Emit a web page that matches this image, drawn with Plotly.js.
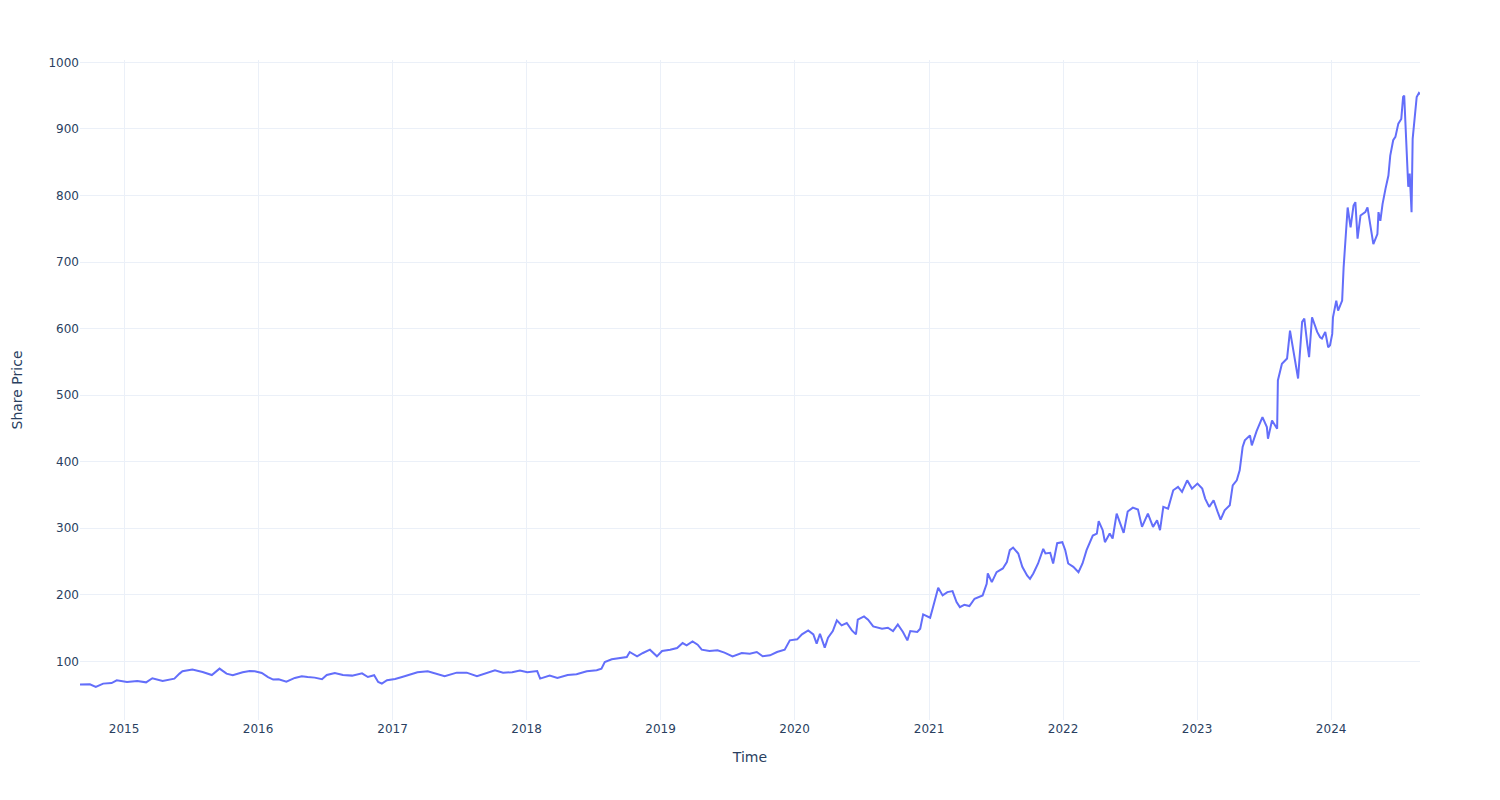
<!DOCTYPE html>
<html>
<head>
<meta charset="utf-8">
<script src="https://cdn.plot.ly/plotly-3.0.1.min.js"></script>
<style>html,body{margin:0;padding:0;background:#fff;}#chart{width:1500px;height:800px;}</style>
</head>
<body>
<div id="chart"></div>
<script>
// Dates of the readings
const dates = [
"2014-09-03","2014-09-30","2014-10-16","2014-11-05","2014-11-28","2014-12-12",
"2015-01-09","2015-02-06","2015-03-02","2015-03-19","2015-04-16","2015-05-18","2015-06-01","2015-06-09","2015-07-06","2015-08-03","2015-08-28","2015-09-18","2015-10-07","2015-10-24","2015-11-20","2015-12-09","2015-12-23",
"2016-01-11","2016-01-28","2016-02-11","2016-02-26","2016-03-18","2016-04-10","2016-04-29","2016-05-15","2016-06-03","2016-06-23","2016-07-06","2016-07-28","2016-08-19","2016-09-13","2016-10-10","2016-10-26","2016-11-12","2016-11-23","2016-12-03","2016-12-17",
"2017-01-08","2017-01-27","2017-02-17","2017-03-10","2017-04-07","2017-05-01","2017-05-23","2017-06-25","2017-07-22","2017-08-19","2017-09-16","2017-10-07","2017-10-29","2017-11-23","2017-12-14",
"2018-01-03","2018-01-30","2018-02-07","2018-03-05","2018-03-26","2018-04-23","2018-05-17","2018-06-14","2018-07-11","2018-07-24","2018-08-02","2018-08-21","2018-09-12","2018-10-01","2018-10-09","2018-10-29","2018-11-14","2018-12-03","2018-12-22",
"2019-01-05","2019-01-27","2019-02-15","2019-03-02","2019-03-13","2019-03-29","2019-04-12","2019-04-23","2019-05-14","2019-06-05","2019-06-24","2019-07-16","2019-08-10","2019-09-01","2019-09-20","2019-10-06","2019-10-26","2019-11-14","2019-12-05","2019-12-19",
"2020-01-08","2020-01-21","2020-02-07","2020-02-21","2020-03-01","2020-03-10","2020-03-23","2020-04-01","2020-04-14","2020-04-25","2020-05-08","2020-05-22","2020-06-05","2020-06-16","2020-06-21","2020-07-08","2020-07-19","2020-08-02","2020-08-26","2020-09-11","2020-09-25","2020-10-08","2020-10-22","2020-11-03","2020-11-11","2020-11-30","2020-12-08","2020-12-16",
"2021-01-04","2021-01-12","2021-01-26","2021-02-07","2021-02-20","2021-03-06","2021-03-17","2021-03-26","2021-04-07","2021-04-21","2021-05-05","2021-05-27","2021-06-07","2021-06-10","2021-06-21","2021-07-04","2021-07-21","2021-08-01","2021-08-09","2021-08-18","2021-09-01","2021-09-12","2021-09-25","2021-10-03","2021-10-12","2021-10-25","2021-11-08","2021-11-14","2021-11-27","2021-12-05","2021-12-16","2021-12-30",
"2022-01-07","2022-01-15","2022-01-29","2022-02-12","2022-02-23","2022-03-06","2022-03-14","2022-03-23","2022-04-03","2022-04-08","2022-04-19","2022-04-25","2022-05-08","2022-05-16","2022-05-27","2022-06-04","2022-06-15","2022-06-26","2022-07-10","2022-07-24","2022-08-04","2022-08-20","2022-09-03","2022-09-14","2022-09-22","2022-10-01","2022-10-14","2022-10-28","2022-11-10","2022-11-21","2022-12-05","2022-12-18",
"2023-01-02","2023-01-15","2023-01-23","2023-02-03","2023-02-15","2023-02-26","2023-03-06","2023-03-17","2023-03-31","2023-04-08","2023-04-19","2023-04-27","2023-05-05","2023-05-11","2023-05-25","2023-05-30","2023-06-12","2023-06-28","2023-07-10","2023-07-13","2023-07-24","2023-08-07","2023-08-09","2023-08-20","2023-09-03","2023-09-11","2023-09-19","2023-10-03","2023-10-14","2023-10-20","2023-10-28","2023-11-02","2023-11-10","2023-11-24","2023-12-02","2023-12-07","2023-12-16","2023-12-24","2023-12-29",
"2024-01-04","2024-01-06","2024-01-15","2024-01-20","2024-01-31","2024-02-04","2024-02-09","2024-02-15","2024-02-23","2024-03-02","2024-03-07","2024-03-13","2024-03-21","2024-04-03","2024-04-09","2024-04-17","2024-04-25","2024-05-06","2024-05-09","2024-05-14","2024-05-20","2024-05-28","2024-06-05","2024-06-10","2024-06-18","2024-06-24","2024-07-02","2024-07-10","2024-07-15","2024-07-18","2024-07-23","2024-07-26","2024-07-29","2024-08-02","2024-08-07","2024-08-10","2024-08-15","2024-08-21","2024-08-27","2024-08-30"
];
// Share price readings
const prices = [
65.0,65.4,61.4,66.5,67.4,71.5,
69,70.4,68.4,74.5,70.4,74,81.5,85,87.5,84,79.4,89,81.5,79,83.5,85.4,85,
82.4,76.4,72.5,73,69.5,75,77.5,76.4,75.5,73,79.4,82.4,79.4,78.5,82,76.4,79,69,66.5,71.5,
73.4,76.4,80.5,83.5,85,80.5,77.5,83,83,77.5,82.4,86.5,83,83.5,86,
83.5,85.4,74,78.5,75,79.4,80.5,85,86.5,89,99,103,105,106.5,114,107.5,112.5,117.5,107.5,
115.5,117.5,120,127.5,124,130,125,117.5,115.5,116.5,113,107.5,112.5,111.5,114,107.5,109,114,117.5,131.5,
133,140.5,146.5,140.5,126.5,141.5,120.5,135.5,145.5,161.5,154,157.5,146.5,140.5,162.5,167.5,162.5,152.5,149,150.5,145.5,155.5,144,131.5,145.5,144,149,170.5,
165.5,181.5,210.5,199,204,205.5,189,181.5,185,183,194,199,216.5,232,219,234,239.5,249,267,271,262,242,229,224,232,247,269,262,263,247,277.5,279,
267,247,242,234,247,267,277,289,292,310.5,297,279,292,284.5,322,311,293,325,331,328,302,322,302,312,297,332,329.5,357,362,354.5,372,359.5,
367,359.5,344.5,332,342,324.5,313,327,334.5,364.5,372,387,422,432,439.5,424.5,446,467,452,434.5,462,449.5,522,547,555,597,572,525,610,615,577,557,617,595,587,585,595,572,575,
592,617,642,627,642,692,737,782,752,785,790,735,770,775,782,752,727,742,775,762,787,810,830,860,883,888,908,915,948,950,878,848,813,833,775,885,920,948,954,952
];

const trace = {
  type: "scatter",
  mode: "lines",
  x: dates,
  y: prices,
  line: {color: "#636efa", width: 2},
  showlegend: false
};

const axisCommon = {
  gridcolor: "#EBF0F8",
  linecolor: "#EBF0F8",
  zerolinecolor: "#EBF0F8",
  zerolinewidth: 2,
  ticks: "",
  showline: false,
  automargin: true,
  tickfont: {size: 12, color: "#2a3f5f"}
};

const layout = {
  width: 1500,
  height: 800,
  margin: {l: 80, r: 80, t: 60, b: 80},
  paper_bgcolor: "#ffffff",
  plot_bgcolor: "#ffffff",
  font: {family: "DejaVu Sans, Verdana, sans-serif", size: 12, color: "#2a3f5f"},
  xaxis: Object.assign({}, axisCommon, {
    type: "date",
    title: {text: "Time", standoff: 17, font: {size: 14, color: "#2a3f5f"}}
  }),
  yaxis: Object.assign({}, axisCommon, {
    title: {text: "Share Price", standoff: 22, font: {size: 14, color: "#2a3f5f"}}
  }),
  showlegend: false
};

Plotly.newPlot("chart", [trace], layout, {displayModeBar: false, responsive: false});
</script>
</body>
</html>
